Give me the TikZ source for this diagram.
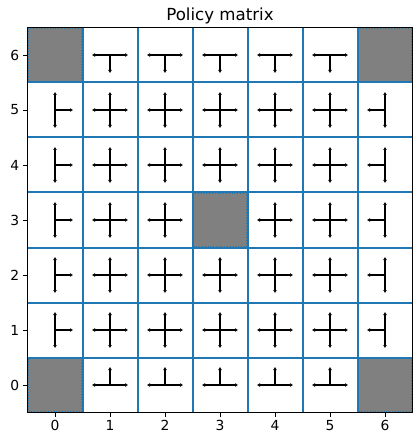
\documentclass[tikz,border=0pt]{standalone}
\usepackage{fontspec}
\setmainfont{DejaVu Sans}
\usetikzlibrary{arrows.meta}
\definecolor{mplblue}{HTML}{1F77B4}
\definecolor{cellgray}{HTML}{808080}
\begin{document}
\begin{tikzpicture}[x=1bp,y=-1bp,
  gridline/.style={draw=mplblue,line width=2bp},
  arr/.style={line width=2bp,-{Latex[length=3bp,width=4bp]}},
  ticklbl/.style={font=\fontsize{13.9}{14}\selectfont,inner sep=0pt},
  frame/.style={draw=black,line width=1.1bp}]
\useasboundingbox (0,0) rectangle (418,442);
\def\L{27.5}\def\T{27.5}\def\S{55}
% title
\node[font=\fontsize{16.7}{17}\selectfont,anchor=base] (title) at (220,20.5) {Policy matrix};
% gray cells (col,row) with row 0 at bottom
\foreach \c/\r in {0/0,6/0,0/6,6/6,3/3}{
  \fill[cellgray] (\L+\c*\S,\T+6*\S-\r*\S) rectangle ++(\S,\S);
  \draw[mplblue,line width=0.8bp,dotted] (\L+\c*\S+1,\T+6*\S-\r*\S+1) rectangle ++(\S-2,\S-2);
}
% grid lines
\foreach \i in {1,...,6}{
  \draw[gridline] (\L+\i*\S,\T) -- (\L+\i*\S,\T+7*\S);
  \draw[gridline] (\L,\T+\i*\S) -- (\L+7*\S,\T+\i*\S);
}
% arrows
\foreach \c in {0,...,6}{
  \foreach \r in {0,...,6}{
    \pgfmathtruncatemacro{\isblock}{(\c==0 || \c==6) && (\r==0 || \r==6) ? 1 : ((\c==3 && \r==3) ? 1 : 0)}
    \ifnum\isblock=0
      \coordinate (ctr-\c-\r) at (\L+\c*\S+\S/2,\T+6*\S-\r*\S+\S/2);
      \ifnum\c>0 \draw[arr] (ctr-\c-\r) -- ++(-18,0) coordinate (w-\c-\r); \fi
      \ifnum\c<6 \draw[arr] (ctr-\c-\r) -- ++(18,0) coordinate (e-\c-\r); \fi
      \ifnum\r<6 \draw[arr] (ctr-\c-\r) -- ++(0,-18) coordinate (n-\c-\r); \fi
      \ifnum\r>0 \draw[arr] (ctr-\c-\r) -- ++(0,18) coordinate (s-\c-\r); \fi
    \fi
  }
}
% frame
\draw[frame] (\L,\T) rectangle (\L+7*\S,\T+7*\S);
% ticks and labels
\foreach \i in {0,...,6}{
  \draw[line width=0.9bp] (\L+\i*\S+\S/2,\T+7*\S) -- ++(0,4.9);
  \node[ticklbl,anchor=north] (xl\i) at (\L+\i*\S+\S/2,\T+7*\S+8) {\i};
  \draw[line width=0.9bp] (\L,\T+6*\S-\i*\S+\S/2) -- ++(-4.9,0);
  \node[ticklbl,anchor=east] (yl\i) at (\L-8,\T+6*\S-\i*\S+\S/2) {\i};
}
\end{tikzpicture}
\end{document}
